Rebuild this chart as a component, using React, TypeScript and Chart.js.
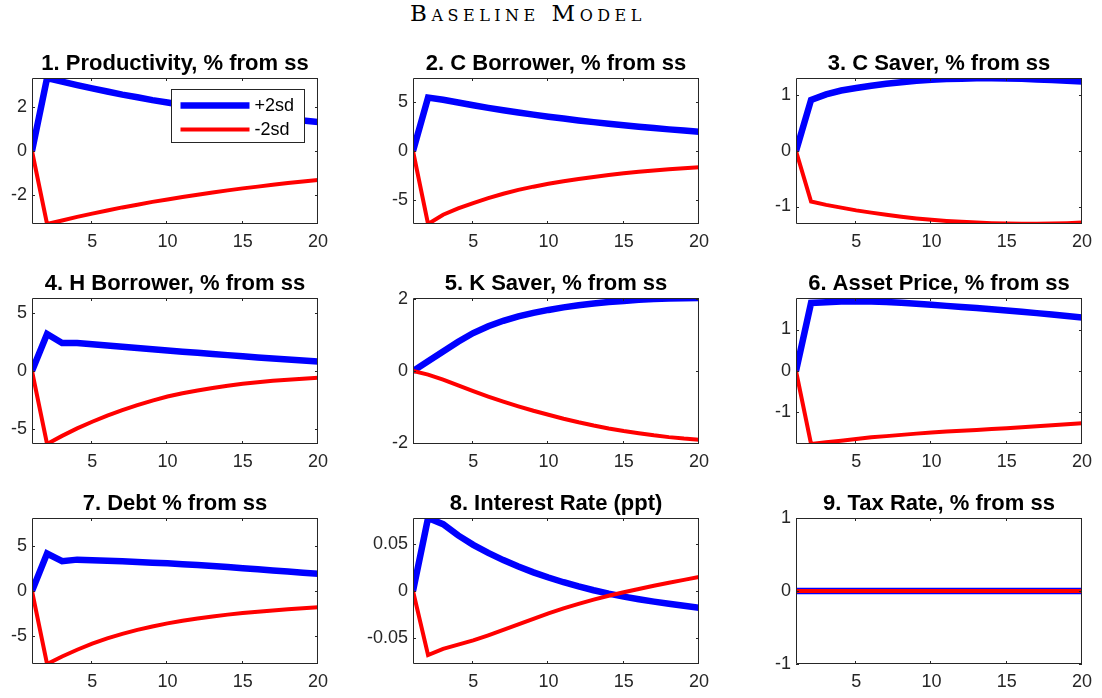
import React, { useEffect, useRef } from "react";
import { Chart, registerables } from "chart.js";

Chart.register(...registerables);

// ---------- data ----------
const PERIODS = [1, 2, 3, 4, 5, 6, 7, 8, 9, 10, 11, 12, 13, 14, 15, 16, 17, 18, 19, 20];
const X_TICKS = [5, 10, 15, 20];
const SERIES_LABELS = ["+2sd", "-2sd"];
const FIGURE_TITLE = "Baseline Model";

const PANEL_TITLES = [
  "1. Productivity, % from ss",
  "2. C Borrower, % from ss",
  "3. C Saver, % from ss",
  "4. H Borrower, % from ss",
  "5. K Saver, % from ss",
  "6. Asset Price, % from ss",
  "7. Debt % from ss",
  "8. Interest Rate (ppt)",
  "9. Tax Rate, % from ss",
];

const PROD_POS = [0, 3.30, 3.14, 2.98, 2.83, 2.69, 2.55, 2.43, 2.30, 2.19, 2.08, 1.98, 1.88, 1.78, 1.69, 1.61, 1.53, 1.45, 1.38, 1.31];
const PROD_NEG = [0, -3.30, -3.14, -2.98, -2.83, -2.69, -2.55, -2.43, -2.30, -2.19, -2.08, -1.98, -1.88, -1.78, -1.69, -1.61, -1.53, -1.45, -1.38, -1.31];

const CB_POS = [0, 5.44, 5.22, 4.93, 4.65, 4.39, 4.15, 3.91, 3.70, 3.49, 3.30, 3.11, 2.94, 2.77, 2.62, 2.47, 2.33, 2.20, 2.08, 1.96];
const CB_NEG = [0, -7.43, -6.49, -5.85, -5.30, -4.80, -4.35, -3.96, -3.63, -3.34, -3.08, -2.85, -2.64, -2.45, -2.27, -2.12, -1.98, -1.86, -1.75, -1.66];

const CS_POS = [0, 0.92, 1.02, 1.09, 1.135, 1.175, 1.21, 1.24, 1.265, 1.285, 1.295, 1.30, 1.31, 1.31, 1.305, 1.30, 1.29, 1.28, 1.265, 1.25];
const CS_NEG = [0, -0.91, -0.97, -1.02, -1.07, -1.11, -1.15, -1.185, -1.215, -1.24, -1.26, -1.275, -1.29, -1.30, -1.305, -1.31, -1.31, -1.305, -1.30, -1.29];

const HB_POS = [0, 3.20, 2.42, 2.42, 2.30, 2.20, 2.10, 1.99, 1.88, 1.77, 1.67, 1.57, 1.47, 1.37, 1.27, 1.17, 1.08, 0.99, 0.90, 0.81];
const HB_NEG = [0, -6.30, -5.60, -4.95, -4.38, -3.85, -3.38, -2.95, -2.55, -2.20, -1.92, -1.68, -1.47, -1.28, -1.10, -0.97, -0.85, -0.75, -0.66, -0.58];

const KS_POS = [0, 0.27, 0.54, 0.81, 1.05, 1.24, 1.39, 1.51, 1.61, 1.69, 1.76, 1.82, 1.87, 1.91, 1.94, 1.97, 1.99, 2.005, 2.015, 2.02];
const KS_NEG = [0, -0.10, -0.24, -0.40, -0.56, -0.71, -0.85, -0.98, -1.10, -1.21, -1.32, -1.42, -1.51, -1.59, -1.66, -1.72, -1.78, -1.83, -1.87, -1.90];

const AP_POS = [0, 1.64, 1.66, 1.675, 1.68, 1.675, 1.665, 1.645, 1.62, 1.595, 1.57, 1.545, 1.52, 1.49, 1.46, 1.43, 1.395, 1.36, 1.325, 1.29];
const AP_NEG = [0, -1.76, -1.72, -1.68, -1.64, -1.60, -1.57, -1.54, -1.51, -1.48, -1.46, -1.44, -1.42, -1.40, -1.38, -1.355, -1.33, -1.31, -1.285, -1.26];

const DEBT_POS = [0, 4.12, 3.28, 3.45, 3.38, 3.32, 3.26, 3.19, 3.12, 3.04, 2.95, 2.85, 2.75, 2.63, 2.50, 2.38, 2.26, 2.14, 2.02, 1.90];
const DEBT_NEG = [0, -8.03, -7.20, -6.46, -5.80, -5.22, -4.72, -4.28, -3.90, -3.56, -3.27, -3.02, -2.80, -2.60, -2.43, -2.28, -2.14, -2.01, -1.90, -1.79];

const IR_POS = [0, 0.0775, 0.071, 0.059, 0.049, 0.0405, 0.0328, 0.026, 0.0198, 0.0143, 0.0093, 0.0048, 0.0008, -0.0028, -0.006, -0.0088, -0.0113, -0.0136, -0.0157, -0.0177];
const IR_NEG = [0, -0.068, -0.0615, -0.057, -0.0525, -0.047, -0.0413, -0.0354, -0.0295, -0.0237, -0.0185, -0.0137, -0.0092, -0.0051, -0.0013, 0.0022, 0.0055, 0.0087, 0.0118, 0.015];

const TAX_POS = [0, 0, 0, 0, 0, 0, 0, 0, 0, 0, 0, 0, 0, 0, 0, 0, 0, 0, 0, 0];
const TAX_NEG = [0, 0, 0, 0, 0, 0, 0, 0, 0, 0, 0, 0, 0, 0, 0, 0, 0, 0, 0, 0];

const Y_TICKS = [
  [-2, 0, 2],
  [-5, 0, 5],
  [-1, 0, 1],
  [-5, 0, 5],
  [-2, 0, 2],
  [-1, 0, 1],
  [-5, 0, 5],
  [-0.05, 0, 0.05],
  [-1, 0, 1],
];
const Y_LIMITS = [3.3, 7.43, 1.315, 6.3, 2.02, 1.76, 8.03, 0.0775, 1];

const POS_SERIES = [PROD_POS, CB_POS, CS_POS, HB_POS, KS_POS, AP_POS, DEBT_POS, IR_POS, TAX_POS];
const NEG_SERIES = [PROD_NEG, CB_NEG, CS_NEG, HB_NEG, KS_NEG, AP_NEG, DEBT_NEG, IR_NEG, TAX_NEG];

// ---------- layout / style ----------
const FONT = "'Liberation Sans', Arial, Helvetica, sans-serif";
const AXIS_COLOR = "#262626";
const COL_LEFT = [32, 413, 796];
const ROW_TOP = [78, 298, 518];
const PLOT_W = 291;
const PLOT_H = 146;
const PAD_L = 70;
const PAD_T = 45;
const PAD_R = 12;
const PAD_B = 35;
const CANVAS_W = PLOT_W + PAD_L + PAD_R;
const CANVAS_H = PLOT_H + PAD_T + PAD_B;

const boxPlugin = {
  id: "matlabBox",
  afterDraw(chart: any) {
    const { ctx, chartArea } = chart;
    const { left, right, top, bottom } = chartArea;
    const xs = chart.scales.x;
    const ys = chart.scales.y;
    const tl = 3;
    ctx.save();
    ctx.strokeStyle = AXIS_COLOR;
    ctx.lineWidth = 1;
    ctx.beginPath();
    ctx.rect(left + 0.5, top + 0.5, right - left - 1, bottom - top - 1);
    ctx.stroke();
    ctx.beginPath();
    xs.ticks.forEach((t: any) => {
      const px = Math.round(xs.getPixelForValue(t.value)) - 0.5;
      ctx.moveTo(px, bottom);
      ctx.lineTo(px, bottom - tl);
      ctx.moveTo(px, top);
      ctx.lineTo(px, top + tl);
    });
    ys.ticks.forEach((t: any) => {
      const py = Math.round(ys.getPixelForValue(t.value)) + 0.5;
      ctx.moveTo(left, py);
      ctx.lineTo(left + tl, py);
      ctx.moveTo(right, py);
      ctx.lineTo(right - tl, py);
    });
    ctx.stroke();
    ctx.restore();
  },
};

const legendPlugin = {
  id: "matlabLegend",
  afterDraw(chart: any) {
    const { ctx, chartArea } = chart;
    const w = 133;
    const h = 53;
    const bx = Math.round(chartArea.right - 14 - w) + 0.5;
    const by = Math.round(chartArea.top + 11) + 0.5;
    ctx.save();
    ctx.fillStyle = "#ffffff";
    ctx.fillRect(bx, by, w, h);
    ctx.strokeStyle = AXIS_COLOR;
    ctx.lineWidth = 1;
    ctx.strokeRect(bx, by, w, h);
    const ds = chart.data.datasets;
    [0, 1].forEach((i) => {
      const d = ds[i];
      const y = by + 16 + i * 24;
      ctx.beginPath();
      ctx.strokeStyle = d.borderColor;
      ctx.lineWidth = d.borderWidth;
      ctx.moveTo(bx + 9, y);
      ctx.lineTo(bx + 78, y);
      ctx.stroke();
      ctx.fillStyle = "#000000";
      ctx.font = `18px ${FONT}`;
      ctx.textAlign = "left";
      ctx.textBaseline = "middle";
      ctx.fillText(d.label, bx + 83, y + 1);
    });
    ctx.restore();
  },
};

function Panel({ index }: { index: number }) {
  const ref = useRef<HTMLCanvasElement | null>(null);
  useEffect(() => {
    if (!ref.current) return;
    const lim = Y_LIMITS[index];
    const yTicks = Y_TICKS[index];
    const pos = POS_SERIES[index];
    const neg = NEG_SERIES[index];
    const plugins: any[] = [boxPlugin];
    if (index === 0) plugins.push(legendPlugin);
    const chart = new Chart(ref.current, {
      type: "line",
      data: {
        datasets: [
          {
            label: SERIES_LABELS[0],
            data: PERIODS.map((x, i) => ({ x, y: pos[i] })),
            borderColor: "#0000FF",
            backgroundColor: "#0000FF",
            borderWidth: 6.5,
            pointRadius: 0,
            tension: 0,
            order: 2,
          },
          {
            label: SERIES_LABELS[1],
            data: PERIODS.map((x, i) => ({ x, y: neg[i] })),
            borderColor: "#FF0000",
            backgroundColor: "#FF0000",
            borderWidth: 4,
            pointRadius: 0,
            tension: 0,
            order: 1,
          },
        ],
      },
      options: {
        animation: false,
        responsive: false,
        devicePixelRatio: 1,
        events: [],
        layout: { padding: { left: 0, right: PAD_R, top: 0, bottom: 0 } },
        plugins: {
          legend: { display: false },
          tooltip: { enabled: false },
          title: {
            display: true,
            fullSize: false,
            text: PANEL_TITLES[index],
            color: "#000000",
            font: { family: FONT, size: 22, weight: "bold", lineHeight: 1.2 },
            padding: { top: 17.6, bottom: 1 },
          },
        },
        scales: {
          x: {
            type: "linear",
            min: 1,
            max: 20,
            afterBuildTicks: (s: any) => {
              s.ticks = X_TICKS.map((v) => ({ value: v }));
            },
            afterFit: (s: any) => {
              s.height = PAD_B;
            },
            grid: { display: false, drawTicks: false },
            border: { display: false },
            ticks: {
              color: AXIS_COLOR,
              font: { family: FONT, size: 18 },
              padding: 7,
              autoSkip: false,
              maxRotation: 0,
              callback: (v: any) => String(v),
            },
          },
          y: {
            type: "linear",
            min: -lim,
            max: lim,
            afterBuildTicks: (s: any) => {
              s.ticks = yTicks.map((v) => ({ value: v }));
            },
            afterFit: (s: any) => {
              s.width = PAD_L;
            },
            grid: { display: false, drawTicks: false },
            border: { display: false },
            ticks: {
              color: AXIS_COLOR,
              font: { family: FONT, size: 18 },
              padding: 5,
              autoSkip: false,
              callback: (v: any) => String(v),
            },
          },
        },
      },
      plugins,
    } as any);
    return () => chart.destroy();
  }, [index]);

  const col = index % 3;
  const row = Math.floor(index / 3);
  return (
    <canvas
      ref={ref}
      width={CANVAS_W}
      height={CANVAS_H}
      style={{
        position: "absolute",
        left: COL_LEFT[col] - PAD_L,
        top: ROW_TOP[row] - PAD_T,
        width: CANVAS_W,
        height: CANVAS_H,
      }}
    />
  );
}

export default function App() {
  return (
    <div
      style={{
        position: "absolute",
        left: 0,
        top: 0,
        width: 1102,
        height: 698,
        background: "#ffffff",
        overflow: "hidden",
      }}
    >
      <div
        style={{
          position: "absolute",
          left: 228,
          top: 0,
          width: 600,
          textAlign: "center",
          fontFamily: "'DejaVu Serif', 'Liberation Serif', serif",
          fontSize: 23,
          lineHeight: "26px",
          fontVariant: "small-caps",
          letterSpacing: 4.5,
          color: "#000",
        }}
      >
        {FIGURE_TITLE}
      </div>
      {PANEL_TITLES.map((_, i) => (
        <Panel key={i} index={i} />
      ))}
    </div>
  );
}
